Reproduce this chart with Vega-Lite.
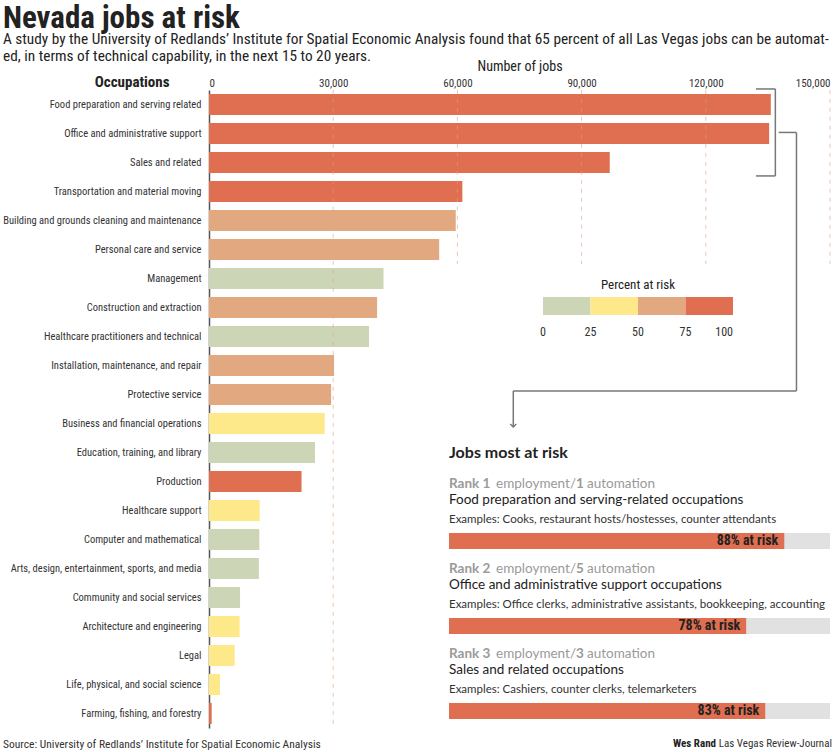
{
  "$schema": "https://vega.github.io/schema/vega-lite/v6.json",
  "width": 621,
  "height": 638,
  "autosize": "none",
  "padding": {"left": 209, "top": 90, "right": 5, "bottom": 24},
  "background": "white",
  "config": {
    "view": {"stroke": null},
    "font": "Roboto Condensed, Liberation Sans Narrow, DejaVu Sans Condensed, Roboto, sans-serif"
  },
  "title": {
    "text": "Nevada jobs at risk",
    "subtitle": [
      "A study by the University of Redlands’ Institute for Spatial Economic Analysis found that 65 percent of all Las Vegas jobs can be automat-",
      "ed, in terms of technical capability, in the next 15 to 20 years."
    ],
    "anchor": "start",
    "frame": "group",
    "dx": -206,
    "offset": -6,
    "fontSize": 31,
    "fontWeight": "bold",
    "color": "#222",
    "subtitleFontSize": 15.3,
    "subtitleColor": "#222",
    "subtitleLineHeight": 17,
    "subtitlePadding": -3
  },
  "layer": [
    {
      "data": {"values": [
        {"occupation": "Food preparation and serving related", "jobs": 135700, "risk_band_low": 75},
        {"occupation": "Office and administrative support", "jobs": 135300, "risk_band_low": 75},
        {"occupation": "Sales and related", "jobs": 96800, "risk_band_low": 75},
        {"occupation": "Transportation and material moving", "jobs": 61200, "risk_band_low": 75},
        {"occupation": "Building and grounds cleaning and maintenance", "jobs": 59600, "risk_band_low": 50},
        {"occupation": "Personal care and service", "jobs": 55600, "risk_band_low": 50},
        {"occupation": "Management", "jobs": 42150, "risk_band_low": 0},
        {"occupation": "Construction and extraction", "jobs": 40600, "risk_band_low": 50},
        {"occupation": "Healthcare practitioners and technical", "jobs": 38650, "risk_band_low": 0},
        {"occupation": "Installation, maintenance, and repair", "jobs": 30200, "risk_band_low": 50},
        {"occupation": "Protective service", "jobs": 29500, "risk_band_low": 50},
        {"occupation": "Business and financial operations", "jobs": 27950, "risk_band_low": 25},
        {"occupation": "Education, training, and library", "jobs": 25600, "risk_band_low": 0},
        {"occupation": "Production", "jobs": 22350, "risk_band_low": 75},
        {"occupation": "Healthcare support", "jobs": 12250, "risk_band_low": 25},
        {"occupation": "Computer and mathematical", "jobs": 12150, "risk_band_low": 0},
        {"occupation": "Arts, design, entertainment, sports, and media", "jobs": 12050, "risk_band_low": 0},
        {"occupation": "Community and social services", "jobs": 7500, "risk_band_low": 0},
        {"occupation": "Architecture and engineering", "jobs": 7400, "risk_band_low": 25},
        {"occupation": "Legal", "jobs": 6200, "risk_band_low": 25},
        {"occupation": "Life, physical, and social science", "jobs": 2650, "risk_band_low": 25},
        {"occupation": "Farming, fishing, and forestry", "jobs": 650, "risk_band_low": 75}
      ]},
      "layer": [
        {
          "mark": {"type": "bar"},
          "encoding": {
            "y": {
              "field": "occupation", "type": "nominal", "sort": null,
              "scale": {"paddingInner": 0.276, "paddingOuter": 0.138},
              "axis": {
                "title": "Occupations", "titleAngle": 0, "titleAlign": "right", "titleBaseline": "middle",
                "titleX": -40, "titleY": -9, "titleFontSize": 15, "titleFontWeight": "bold", "titleColor": "#222",
                "labelFontSize": 10.5, "labelColor": "#333", "labelPadding": 8, "labelLimit": 300,
                "ticks": false, "domainColor": "#555", "domainWidth": 1.5
              }
            },
            "x": {
              "field": "jobs", "type": "quantitative",
              "scale": {"domain": [0, 150000], "nice": false},
              "axis": {
                "orient": "top", "values": [0, 30000, 60000, 90000, 120000, 150000], "format": ",.0f",
                "labelFlush": true, "ticks": false, "domain": false, "grid": false,
                "labelPadding": 2, "labelFontSize": 11, "labelColor": "#333",
                "title": "Number of jobs", "titleFontSize": 14, "titleFontWeight": "normal", "titleColor": "#222", "titlePadding": 4
              }
            },
            "color": {
              "field": "risk_band_low", "type": "quantitative",
              "scale": {"type": "quantize", "domain": [0, 100], "range": ["#CCD5B6", "#FEE98A", "#E2A980", "#E06E50"]},
              "legend": {
                "title": "Percent at risk", "type": "gradient", "direction": "horizontal",
                "orient": "none", "legendX": 334, "legendY": 189, "values": [0, 0.01, 25, 50, 75, 100], "format": ".0f", "labelOverlap": false,
                "gradientLength": 190, "gradientThickness": 18, "gradientStrokeWidth": 0,
                "titleFontSize": 13, "titleFontWeight": "normal", "titleColor": "#222", "titleAnchor": "middle", "titlePadding": 5,
                "labelFontSize": 12, "labelColor": "#333", "labelOffset": 12
              }
            }
          }
        },
        {
          "data": {"values": [{"jobs": 30000}]},
          "mark": {"type": "rule", "strokeDash": [4, 5], "color": "#D9A283", "opacity": 0.6, "strokeWidth": 1},
          "encoding": {
            "x": {"field": "jobs", "type": "quantitative"},
            "y": {"datum": "Food preparation and serving related", "type": "nominal", "bandPosition": -0.2},
            "y2": {"datum": "Farming, fishing, and forestry", "bandPosition": 1.2}
          }
        },
        {
          "data": {"values": [{"jobs": 60000}, {"jobs": 90000}, {"jobs": 120000}, {"jobs": 150000}]},
          "mark": {"type": "rule", "strokeDash": [4, 5], "color": "#D9A283", "opacity": 0.6, "strokeWidth": 1},
          "encoding": {
            "x": {"field": "jobs", "type": "quantitative"},
            "y": {"datum": "Food preparation and serving related", "type": "nominal", "bandPosition": -0.2},
            "y2": {"datum": "Personal care and service", "bandPosition": 1.2}
          }
        },
        {
          "data": {"values": [{}]},
          "layer": [
            {
              "mark": {"type": "rule", "color": "#777", "strokeWidth": 1.5},
              "encoding": {
                "x": {"datum": 136800, "type": "quantitative"},
                "y": {"datum": "Food preparation and serving related", "type": "nominal", "bandPosition": -0.24},
                "y2": {"datum": "Sales and related", "bandPosition": 1.14}
              }
            },
            {
              "mark": {"type": "rule", "color": "#777", "strokeWidth": 1.5},
              "encoding": {
                "x": {"datum": 132100, "type": "quantitative"},
                "x2": {"datum": 136800},
                "y": {"datum": "Food preparation and serving related", "type": "nominal", "bandPosition": -0.24}
              }
            },
            {
              "mark": {"type": "rule", "color": "#777", "strokeWidth": 1.5},
              "encoding": {
                "x": {"datum": 132100, "type": "quantitative"},
                "x2": {"datum": 136800},
                "y": {"datum": "Sales and related", "type": "nominal", "bandPosition": 1.14}
              }
            },
            {
              "mark": {"type": "rule", "color": "#777", "strokeWidth": 1.5},
              "encoding": {
                "x": {"datum": 137600, "type": "quantitative"},
                "x2": {"datum": 141900},
                "y": {"datum": "Office and administrative support", "type": "nominal", "bandPosition": 0.45}
              }
            },
            {
              "mark": {"type": "rule", "color": "#777", "strokeWidth": 1.5},
              "encoding": {
                "x": {"datum": 141900, "type": "quantitative"},
                "y": {"datum": "Office and administrative support", "type": "nominal", "bandPosition": 0.45},
                "y2": {"datum": "Protective service", "bandPosition": 0.33}
              }
            },
            {
              "mark": {"type": "rule", "color": "#777", "strokeWidth": 1.5},
              "encoding": {
                "x": {"datum": 73500, "type": "quantitative"},
                "x2": {"datum": 141900},
                "y": {"datum": "Protective service", "type": "nominal", "bandPosition": 0.33}
              }
            },
            {
              "mark": {"type": "rule", "color": "#777", "strokeWidth": 1.5},
              "encoding": {
                "x": {"datum": 73500, "type": "quantitative"},
                "y": {"datum": "Protective service", "type": "nominal", "bandPosition": 0.33},
                "y2": {"datum": "Business and financial operations", "bandPosition": 0.67}
              }
            },
            {
              "mark": {"type": "point", "shape": "M-1,-1L0,0L1,-1", "filled": false, "color": "#777", "strokeWidth": 1.3, "size": 36, "opacity": 1},
              "encoding": {
                "x": {"datum": 73500, "type": "quantitative"},
                "y": {"datum": "Business and financial operations", "type": "nominal", "bandPosition": 0.67}
              }
            },
            {
              "mark": {"type": "text", "align": "left", "baseline": "middle", "dx": -206, "dy": 31, "fontSize": 11.5, "color": "#333", "text": "Source: University of Redlands’ Institute for Spatial Economic Analysis"},
              "encoding": {
                "x": {"datum": 0, "type": "quantitative"},
                "y": {"datum": "Farming, fishing, and forestry", "type": "nominal"}
              }
            }
          ]
        }
      ]
    },
    {
      "data": {"values": [
        {"emp_rank": 1, "auto_rank": 1, "rank_label": "Rank 1", "occupation": "Food preparation and serving-related occupations", "examples": "Examples: Cooks, restaurant hosts/hostesses, counter attendants", "pct": 88, "risk_label": "88% at risk", "total": 100},
        {"emp_rank": 2, "auto_rank": 5, "rank_label": "Rank 2", "occupation": "Office and administrative support occupations", "examples": "Examples: Office clerks, administrative assistants, bookkeeping, accounting", "pct": 78, "risk_label": "78% at risk", "total": 100},
        {"emp_rank": 3, "auto_rank": 3, "rank_label": "Rank 3", "occupation": "Sales and related occupations", "examples": "Examples: Cashiers, counter clerks, telemarketers", "pct": 83, "risk_label": "83% at risk", "total": 100}
      ]},
      "layer": [
        {
          "mark": {"type": "bar", "orient": "horizontal", "size": 16, "color": "#E1E1E1"},
          "encoding": {
            "y": {"field": "emp_rank", "type": "quantitative", "scale": {"domain": [1, 3], "range": [451, 621], "zero": false, "nice": false, "padding": 0}, "axis": null},
            "x": {"field": "total", "type": "quantitative", "scale": {"domain": [0, 100], "range": [240, 621], "nice": false}, "axis": null}
          }
        },
        {
          "mark": {"type": "bar", "orient": "horizontal", "size": 16, "color": "#E06E50"},
          "encoding": {
            "y": {"field": "emp_rank", "type": "quantitative"},
            "x": {"field": "pct", "type": "quantitative"}
          }
        },
        {
          "mark": {"type": "text", "align": "right", "baseline": "middle", "dx": -6, "fontSize": 14, "fontWeight": "bold", "color": "#222"},
          "encoding": {"y": {"field": "emp_rank", "type": "quantitative"}, "x": {"field": "pct", "type": "quantitative"}, "text": {"field": "risk_label", "type": "nominal"}}
        },
        {
          "mark": {"type": "text", "align": "left", "baseline": "middle", "dy": -57, "font": "Lato, Open Sans, sans-serif", "fontSize": 13.5, "fontWeight": "bold", "color": "#9a9a9a"},
          "encoding": {"y": {"field": "emp_rank", "type": "quantitative"}, "x": {"datum": 0, "type": "quantitative"}, "text": {"field": "rank_label", "type": "nominal"}}
        },
        {
          "mark": {"type": "text", "align": "left", "baseline": "middle", "dx": 47, "dy": -57, "font": "Lato, Open Sans, sans-serif", "fontSize": 13.5, "color": "#9a9a9a", "text": "employment/"},
          "encoding": {"y": {"field": "emp_rank", "type": "quantitative"}, "x": {"datum": 0, "type": "quantitative"}}
        },
        {
          "mark": {"type": "text", "align": "left", "baseline": "middle", "dx": 127, "dy": -57, "font": "Lato, Open Sans, sans-serif", "fontSize": 13.5, "fontWeight": "bold", "color": "#9a9a9a"},
          "encoding": {"y": {"field": "emp_rank", "type": "quantitative"}, "x": {"datum": 0, "type": "quantitative"}, "text": {"field": "auto_rank", "type": "nominal"}}
        },
        {
          "mark": {"type": "text", "align": "left", "baseline": "middle", "dx": 138, "dy": -57, "font": "Lato, Open Sans, sans-serif", "fontSize": 13.5, "color": "#9a9a9a", "text": "automation"},
          "encoding": {"y": {"field": "emp_rank", "type": "quantitative"}, "x": {"datum": 0, "type": "quantitative"}}
        },
        {
          "mark": {"type": "text", "align": "left", "baseline": "middle", "dy": -41, "font": "Lato, Open Sans, sans-serif", "fontSize": 13.5, "color": "#222"},
          "encoding": {"y": {"field": "emp_rank", "type": "quantitative"}, "x": {"datum": 0, "type": "quantitative"}, "text": {"field": "occupation", "type": "nominal"}}
        },
        {
          "mark": {"type": "text", "align": "left", "baseline": "middle", "dy": -21, "font": "Lato, Open Sans, sans-serif", "fontSize": 11.5, "color": "#333"},
          "encoding": {"y": {"field": "emp_rank", "type": "quantitative"}, "x": {"datum": 0, "type": "quantitative"}, "text": {"field": "examples", "type": "nominal"}}
        },
        {
          "data": {"values": [{}]},
          "mark": {"type": "text", "align": "left", "baseline": "middle", "dy": -88, "font": "Lato, Open Sans, sans-serif", "fontSize": 16, "fontWeight": "bold", "color": "#222", "text": "Jobs most at risk"},
          "encoding": {"y": {"datum": 1, "type": "quantitative"}, "x": {"datum": 0, "type": "quantitative"}}
        },
        {
          "data": {"values": [{}]},
          "mark": {"type": "text", "align": "right", "baseline": "middle", "dx": 2, "dy": 33, "fontSize": 11, "color": "#333", "text": "Las Vegas Review-Journal"},
          "encoding": {"y": {"datum": 3, "type": "quantitative"}, "x": {"datum": 100, "type": "quantitative"}}
        },
        {
          "data": {"values": [{}]},
          "mark": {"type": "text", "align": "right", "baseline": "middle", "dx": -114, "dy": 33, "fontSize": 11, "fontWeight": "bold", "color": "#222", "text": "Wes Rand"},
          "encoding": {"y": {"datum": 3, "type": "quantitative"}, "x": {"datum": 100, "type": "quantitative"}}
        }
      ]
    }
  ],
  "resolve": {"scale": {"x": "independent", "y": "independent"}}
}
